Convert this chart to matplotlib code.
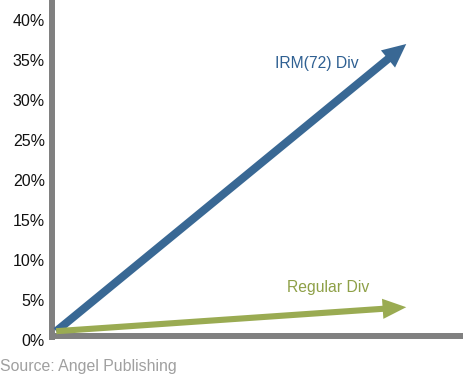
import matplotlib
matplotlib.use("Agg")
import matplotlib.pyplot as plt

# Dividend growth paths (percent), start and end of each arrow
series_names = ["IRM(72) Div", "Regular Div"]
start_values = [1.1, 1.1]
end_values = [37.0, 4.1]
yticks = [0, 5, 10, 15, 20, 25, 30, 35, 40]
ytick_labels = ["0%", "5%", "10%", "15%", "20%", "25%", "30%", "35%", "40%"]
source_text = "Source: Angel Publishing"

plt.rcParams["font.family"] = ["Liberation Sans", "DejaVu Sans"]

W, H = 464, 381
fig = plt.figure(figsize=(W / 100, H / 100), dpi=100)

# axes box in pixel terms: left spine centre at x=52, zero line at y=340 from top
left_px, bottom_px = 52.0, 340.0
ax = fig.add_axes([left_px / W, (H - bottom_px) / H, (W - left_px) / W, bottom_px / H])
ax.set_ylim(0, bottom_px / 8.0)
ax.set_xlim(-0.012, 1.165)

ax.set_yticks(yticks)
ax.set_yticklabels(ytick_labels)
ax.set_xticks([])
ax.tick_params(axis="y", length=0, pad=5, labelsize=11.5, colors="#111111")

spine_col = "#808080"
for s in ("top", "right"):
    ax.spines[s].set_visible(False)
ax.spines["left"].set_color(spine_col)
ax.spines["left"].set_linewidth(4.3)
ax.spines["bottom"].set_color(spine_col)
ax.spines["bottom"].set_linewidth(4.3)
ax.spines["bottom"].set_position(("outward", -3))
ax.spines["left"].set_capstyle("butt")

colors = ["#396894", "#9aab52"]
text_colors = ["#2f6092", "#8ea047"]
shaft_widths = [5.8, 4.4]
head_widths = [16.0, 14.5]
head_lengths = [17.0, 17.0]

for i in range(len(series_names)):
    ax.annotate(
        "", xy=(1.0, end_values[i]), xytext=(0.0, start_values[i]),
        arrowprops=dict(facecolor=colors[i], edgecolor="none",
                        width=shaft_widths[i], headwidth=head_widths[i],
                        headlength=head_lengths[i], shrink=0.0),
        annotation_clip=False,
    )

ax.text(0.744, 34.6, series_names[0], color=text_colors[0], fontsize=11.3,
        ha="center", va="center")
ax.text(0.777, 6.6, series_names[1], color=text_colors[1], fontsize=11.3,
        ha="center", va="center")

fig.text(0.0, (H - 367) / H, source_text, color="#a0a0a0", fontsize=11.4,
         ha="left", va="center")

fig.savefig("out.png", dpi=100)
